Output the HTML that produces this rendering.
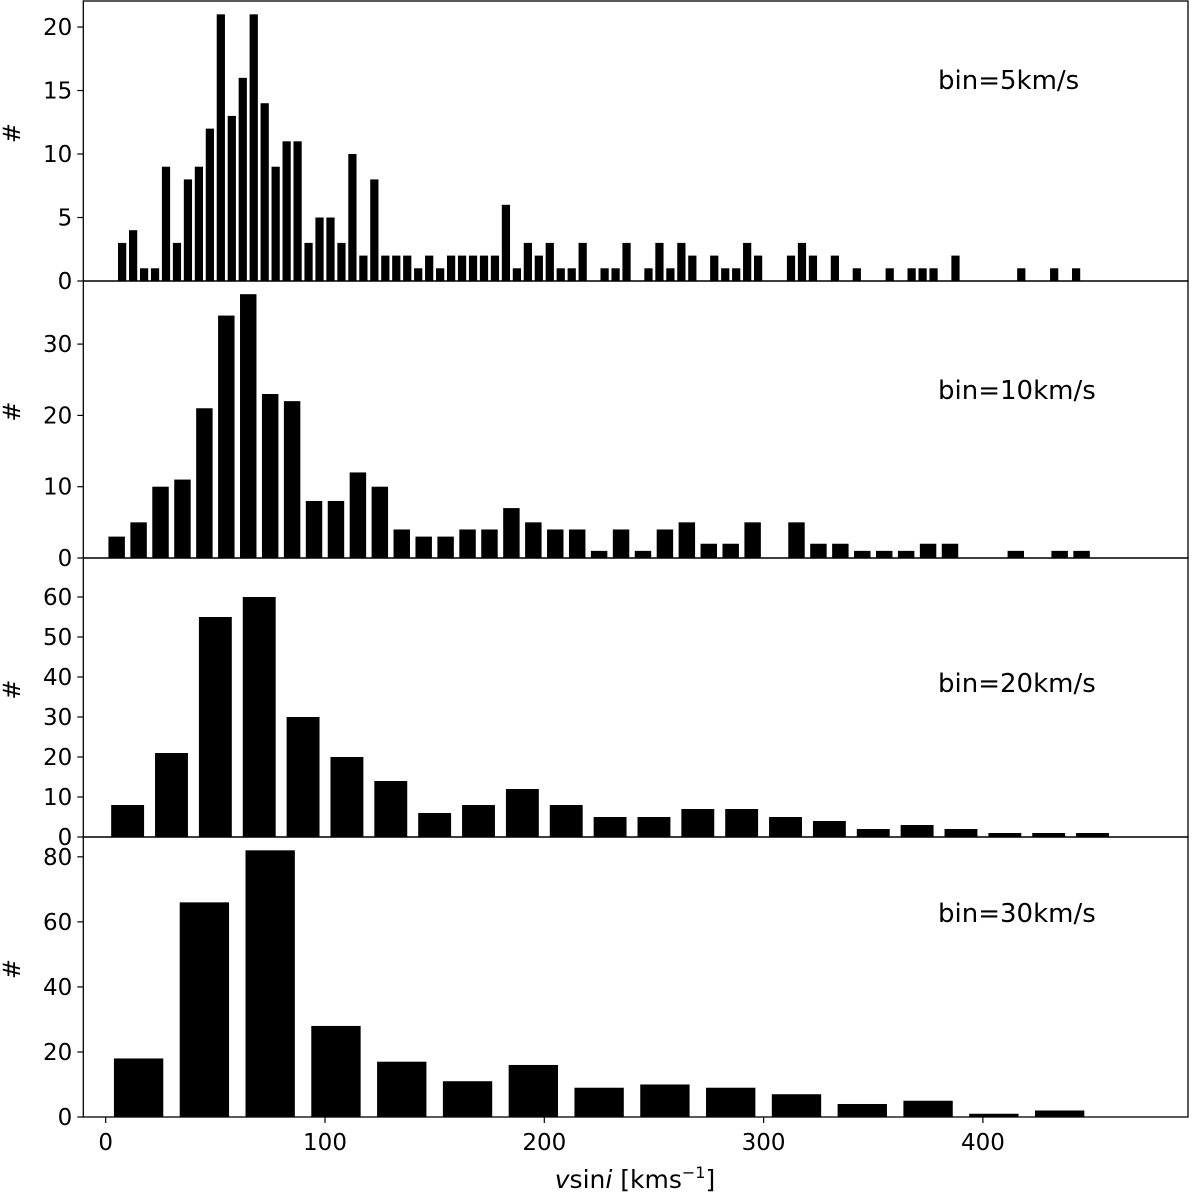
<!DOCTYPE html>
<html><head><meta charset="utf-8"><style>
html,body{margin:0;padding:0;background:#fff;}
svg{display:block;font-family:"DejaVu Sans","Liberation Sans",sans-serif;}
</style></head><body>
<svg id="chart" width="1200" height="1194" viewBox="0 0 1200 1194" xmlns="http://www.w3.org/2000/svg"></svg>
<script>
const counts5 = [0,3,4,1,1,9,3,8,9,12,21,13,16,21,14,9,11,11,3,5,5,3,10,2,8,2,2,2,1,2,1,2,2,2,2,2,6,1,3,2,3,1,1,3,0,1,1,3,0,1,3,1,3,2,0,2,1,1,3,2,0,0,2,3,2,0,2,0,1,0,0,1,0,1,1,1,0,2,0,0,0,0,0,1,0,0,1,0,1];
const counts10 = [3,5,10,11,21,34,37,23,22,8,8,12,10,4,3,3,4,4,7,5,4,4,1,4,1,4,5,2,2,5,0,5,2,2,1,1,1,2,2,0,0,1,0,1,1];
const counts20 = [8,21,55,60,30,20,14,6,8,12,8,5,5,7,7,5,4,2,3,2,1,1,1];
const counts30 = [18,66,82,28,17,11,16,9,10,9,7,4,5,1,2];
const binWidths = [5,10,20,30];
const yLimits = [22.05,38.85,69.75,86.1];
const panelLabels = ["bin=5km/s","bin=10km/s","bin=20km/s","bin=30km/s"];
const yTicks1 = [0,5,10,15,20];
const yTicks2 = [0,10,20,30];
const yTicks3 = [0,10,20,30,40,50,60];
const yTicks4 = [0,20,40,60,80];
const xTicks = [0,100,200,300,400];

const NS="http://www.w3.org/2000/svg";
const svg=document.getElementById('chart');
function mk(tag,attrs,parent){const e=document.createElementNS(NS,tag);for(const k in attrs)e.setAttribute(k,attrs[k]);(parent||svg).appendChild(e);return e;}
const L=83.3,R=1188;
const xScale=v=>105.7+2.193*v;
const panels=[{top:1,bot:281},{top:281,bot:558},{top:558,bot:837},{top:837,bot:1117}];
const allCounts=[counts5,counts10,counts20,counts30];
const allTicks=[yTicks1,yTicks2,yTicks3,yTicks4];
const labelY=[80,390,683,913];

panels.forEach((p,i)=>{
  const g=mk('g',{});
  
  
  const data=allCounts[i];
  const ymax=Math.max(yLimits[i],Math.max(...data)*1.05);
  const yScale=c=>p.bot-(p.bot-p.top)*c/ymax;
  const w=binWidths[i];
  data.forEach((c,k)=>{
    if(c<=0)return;
    const x0=xScale(k*w+w*0.125), x1=xScale(k*w+w*0.875);
    const r=mk('rect',{x:x0,y:yScale(c),width:x1-x0,height:p.bot-yScale(c),fill:'#000'},g);
    
    
  });
  allTicks[i].forEach(t=>{
    const y=yScale(t);
    mk('line',{x1:L-6,x2:L,y1:y,y2:y,stroke:'#000','stroke-width':1.2},g);
    const tx=mk('text',{x:L-11,y:y+8,'text-anchor':'end','font-size':23,fill:'#000'},g);
    tx.textContent=t;
    
    
  });
  const yl=mk('text',{x:20,y:(p.top+p.bot)/2+8,'text-anchor':'middle','font-size':24,fill:'#000',transform:'rotate(-90 12 '+((p.top+p.bot)/2)+')'},g);
  yl.textContent='#';
  
  
  const lb=mk('text',{x:938,y:labelY[i]+9,'font-size':26,fill:'#000'},g);
  lb.textContent=panelLabels[i];
  
  
  const fr=mk('rect',{x:L,y:p.top,width:R-L,height:p.bot-p.top,fill:'none',stroke:'#000','stroke-width':1.3},g);
  
  
});
xTicks.forEach(t=>{
  const x=xScale(t);
  mk('line',{x1:x,x2:x,y1:1117,y2:1123,stroke:'#000','stroke-width':1.2});
  const tx=mk('text',{x:x,y:1150,'text-anchor':'middle','font-size':23,fill:'#000'});
  tx.textContent=t;
  
  
});
const xt=mk('text',{x:635,y:1188,'text-anchor':'middle','font-size':25,fill:'#000'});


xt.innerHTML='<tspan font-style="italic">v</tspan>sin<tspan font-style="italic">i</tspan> [kms<tspan font-size="16" dy="-10">−1</tspan><tspan dy="10">]</tspan>';
</script>
</body></html>
